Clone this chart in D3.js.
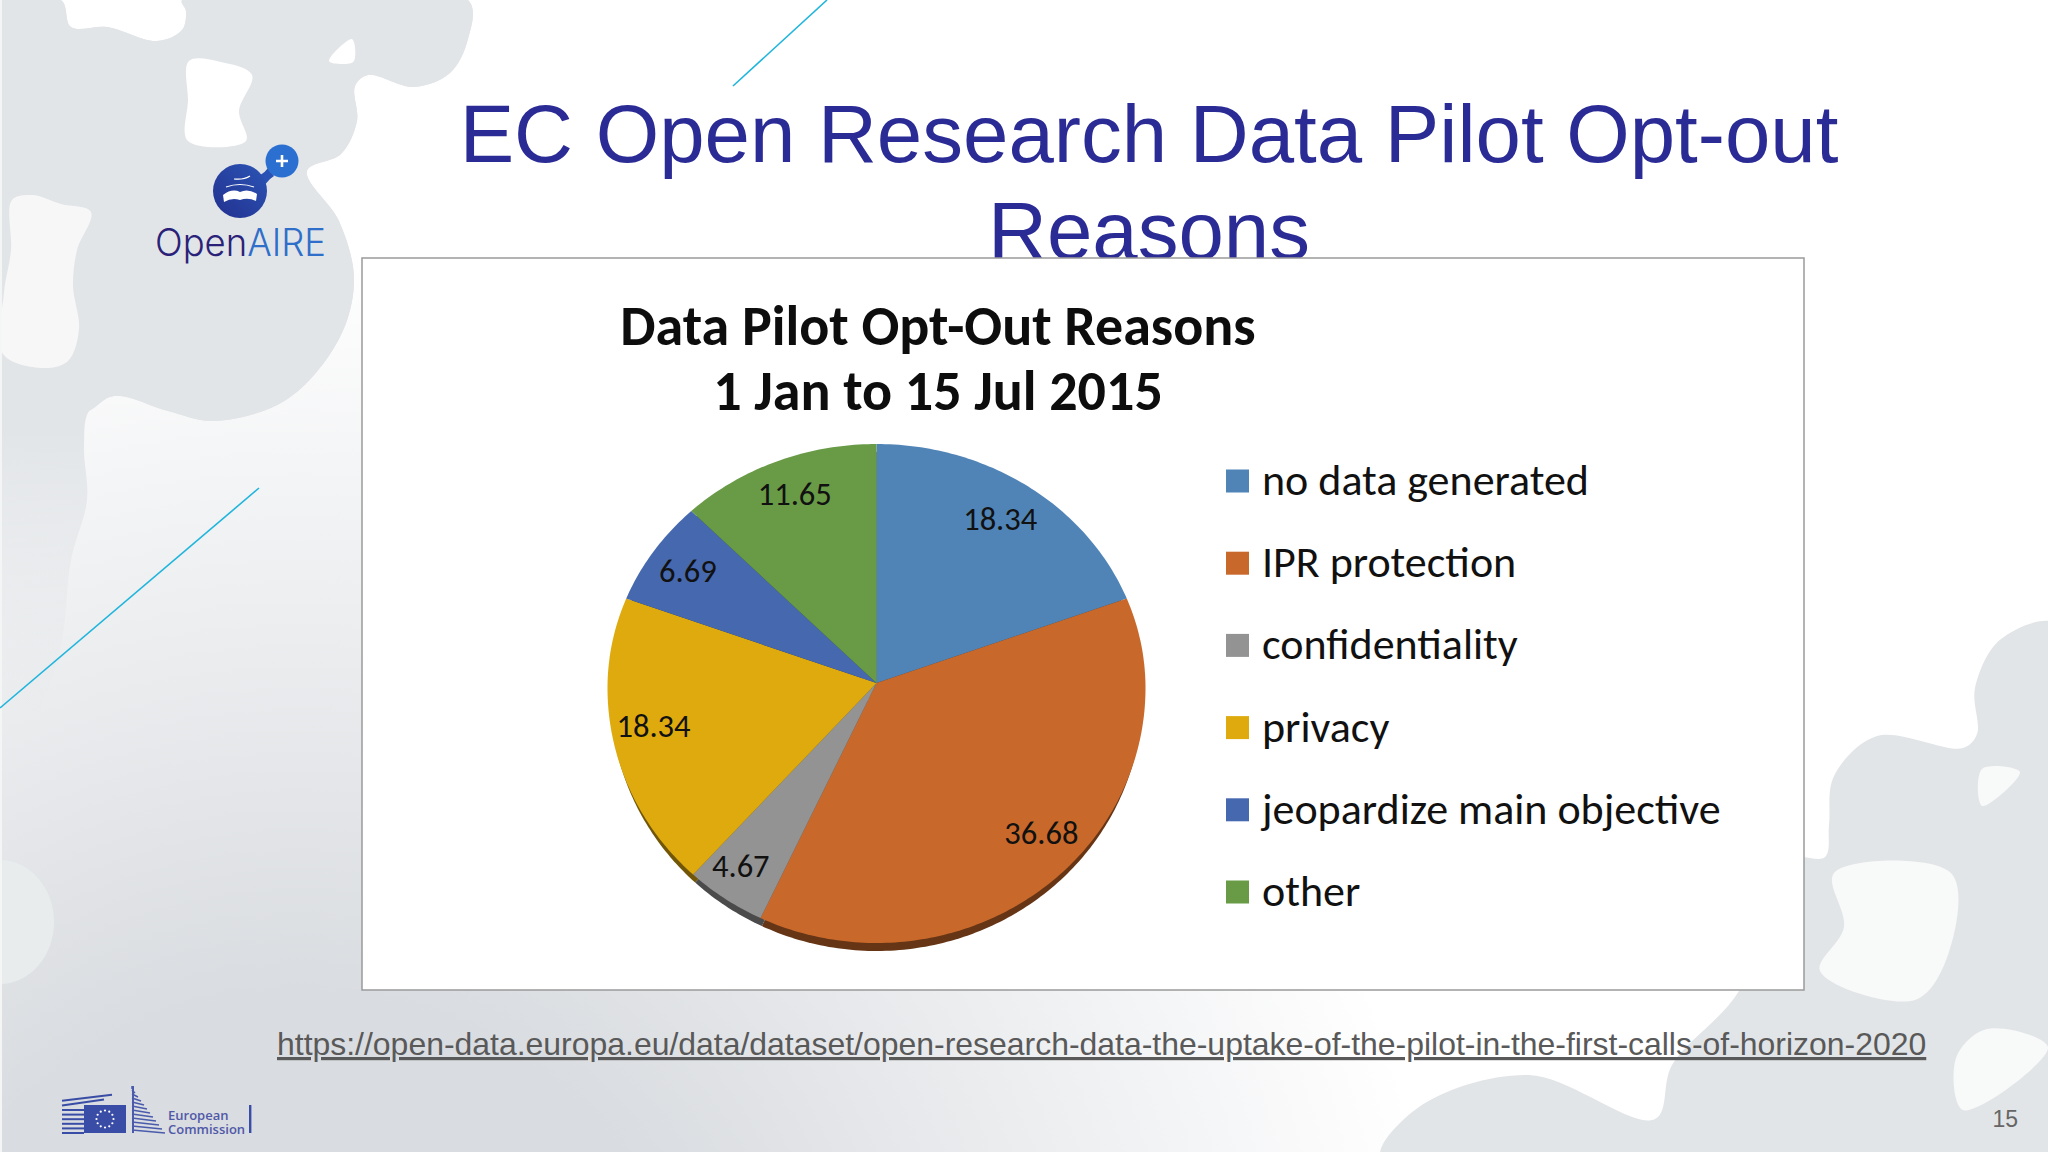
<!DOCTYPE html>
<html>
<head>
<meta charset="utf-8">
<title>EC Open Research Data Pilot Opt-out Reasons</title>
<script src="https://cdn.jsdelivr.net/npm/d3@7"></script>
<style>
  html, body { margin: 0; padding: 0; background: #fff; overflow: hidden; }
  svg { display: block; }
</style>
</head>
<body>
<div id="slide"></div>
<script>
// chart values
const CATEGORIES = ["no data generated", "IPR protection", "confidentiality", "privacy", "jeopardize main objective", "other"];
const VALUES = [18.34, 36.68, 4.67, 18.34, 6.69, 11.65];
const COLORS = ["#5084b6", "#c8692b", "#939393", "#deaa0e", "#4568ae", "#699b47"];
const SLIDE_TITLE = ["EC Open Research Data Pilot Opt-out", "Reasons"];
const CHART_TITLE = ["Data Pilot Opt-Out Reasons", "1 Jan to 15 Jul 2015"];
const LINK = "https://open-data.europa.eu/data/dataset/open-research-data-the-uptake-of-the-pilot-in-the-first-calls-of-horizon-2020";

// frame constants
const FRAME_WIDTH = 2048;
const FRAME_HEIGHT = 1152;
const BOX = {x: 362, y: 258, width: 1442, height: 732};
const PIE = {x: 876.5, apexY: 683, y: 688, rx: 269, ryTop: 244, ryBottom: 255, depth: 8, labelAt: 0.85};
const CALIBRI_LIKE = "Carlito, Lato, sans-serif";
const ARIAL_LIKE = "'Liberation Sans', Arial, sans-serif";
// small per label shifts, excel places them by hand-ish best fit
const LABEL_NUDGE = [[-5, 7], [9, -2], [-7, 11], [0, -3], [1, 4], [3, 3]];

const FRAME = d3.select("#slide")
  .append("svg")
  .attr("width", FRAME_WIDTH)
  .attr("height", FRAME_HEIGHT);

const DEFS = FRAME.append("defs");

const BG_GRAD = DEFS.append("radialGradient").attr("id", "bg")
  .attr("gradientUnits", "userSpaceOnUse")
  .attr("cx", 300).attr("cy", 1400).attr("r", 1150);
BG_GRAD.append("stop").attr("offset", 0.35).attr("stop-color", "#d9dce0");
BG_GRAD.append("stop").attr("offset", 1).attr("stop-color", "#ffffff");

const BAND_GRAD = DEFS.append("linearGradient").attr("id", "band")
  .attr("gradientUnits", "userSpaceOnUse")
  .attr("x1", 0).attr("y1", 430).attr("x2", 0).attr("y2", 720);
BAND_GRAD.append("stop").attr("offset", 0).attr("stop-color", "#e2e5e8");
BAND_GRAD.append("stop").attr("offset", 1).attr("stop-color", "#e2e5e8").attr("stop-opacity", 0);

const BALL_GRAD = DEFS.append("linearGradient").attr("id", "ball")
  .attr("x1", 1).attr("y1", 0).attr("x2", 0).attr("y2", 1);
BALL_GRAD.append("stop").attr("offset", 0).attr("stop-color", "#2b55b5");
BALL_GRAD.append("stop").attr("offset", 1).attr("stop-color", "#23308f");

// background of the slide
FRAME.append("rect")
  .attr("width", FRAME_WIDTH).attr("height", FRAME_HEIGHT)
  .attr("fill", "url(#bg)");

const BLOB = d3.line().curve(d3.curveCatmullRomClosed.alpha(0.5));

function drawBlob(points, fill) {
  FRAME.append("path").attr("d", BLOB(points)).attr("fill", fill);
}

// grey shape top left
drawBlob([[0, 0], [61, 0], [71, 27], [107, 27], [157, 41], [182, 30], [186, 11], [182, 0],
  [468, 0], [468, 39], [450, 73], [414, 87], [368, 75], [355, 86], [357, 121], [341, 154],
  [307, 171], [339, 221], [354, 280], [339, 339], [286, 400], [214, 421], [168, 411],
  [114, 396], [89, 411], [84, 446], [87, 500], [71, 560], [60, 650], [30, 730], [0, 760]], "url(#band)");
drawBlob([[0, 0], [61, 0], [71, 27], [107, 27], [157, 41], [182, 30], [186, 11], [182, 0],
  [468, 0], [468, 39], [450, 73], [414, 87], [368, 75], [355, 86], [357, 121], [341, 154],
  [307, 171], [339, 221], [354, 280], [339, 339], [286, 400], [214, 421], [168, 411],
  [114, 396], [89, 411], [60, 420], [0, 425]], "#e2e5e8");
// holes in that shape
drawBlob([[189, 61], [221, 62], [252, 75], [239, 111], [246, 141], [188, 141], [188, 100]], "#ffffff");
drawBlob([[352, 39], [354, 61], [343, 64], [329, 61]], "#ffffff");
drawBlob([[12, 200], [32, 195], [61, 204], [91, 212], [77, 250], [73, 286], [79, 329], [68, 361],
  [43, 368], [3, 354], [4, 293], [11, 250]], "#f7f7f8");
FRAME.append("ellipse")
  .attr("cx", 0).attr("cy", 922).attr("rx", 54).attr("ry", 62)
  .attr("fill", "#e8ecec");

// grey shapes bottom right
drawBlob([[2060, 625], [2001, 639], [1975, 688], [1977, 734], [1963, 748], [1877, 736], [1834, 776],
  [1829, 825], [1825, 857], [1790, 860], [1739, 991], [1672, 1065], [1655, 1119], [1529, 1075],
  [1419, 1107], [1381, 1160], [2060, 1160]], "#e2e5e7");
drawBlob([[1834, 873], [1951, 873], [1949, 952], [1915, 1000], [1820, 971], [1844, 927]], "#f8f9f9");
drawBlob([[1982, 769], [2020, 772], [1982, 806]], "#f8f9f9");
drawBlob([[1987, 1029], [2048, 1047], [1963, 1110], [1956, 1058]], "#f8f9f9");

// left border of the slide
FRAME.append("rect").attr("width", 2).attr("height", FRAME_HEIGHT).attr("fill", "#f4f5f5");

// thin cyan lines
FRAME.append("line").attr("x1", 0).attr("y1", 708).attr("x2", 259).attr("y2", 488)
  .attr("stroke", "#1fb5dc").attr("stroke-width", 1.6);
FRAME.append("line").attr("x1", 733).attr("y1", 86).attr("x2", 827).attr("y2", 0)
  .attr("stroke", "#1fb5dc").attr("stroke-width", 1.6);

// openaire logo
const LOGO = FRAME.append("g");
LOGO.append("path")
  .attr("d", "M255 176 Q262 176 268 168 L274 176 Q264 182 262 194 Z")
  .attr("fill", "#2a52b4");
LOGO.append("circle").attr("cx", 240).attr("cy", 191).attr("r", 27).attr("fill", "url(#ball)");
LOGO.append("circle").attr("cx", 282).attr("cy", 161).attr("r", 16.5).attr("fill", "#2b6fd0");
LOGO.append("path").attr("d", "M282 155 V167 M276 161 H288")
  .attr("stroke", "#fff").attr("stroke-width", 2.6);
LOGO.append("path")
  .attr("d", "M223 195 Q232 188 240 192 Q248 188 257 194 L256 201 Q248 197 240 200 Q232 197 224 202 Z")
  .attr("fill", "#fff");
LOGO.append("path")
  .attr("d", "M226 187 Q240 182 254 187 M234 179 Q244 180 250 176")
  .attr("stroke", "#fff").attr("stroke-width", 1.2).attr("fill", "none");
const LOGO_TEXT = LOGO.append("text")
  .attr("x", 155).attr("y", 256)
  .attr("font-family", "Inter, Lato, sans-serif")
  .attr("font-size", 38)
  .attr("font-weight", 300)
  .attr("textLength", 171)
  .attr("lengthAdjust", "spacingAndGlyphs");
LOGO_TEXT.append("tspan").attr("fill", "#2a2278").text("Open");
LOGO_TEXT.append("tspan").attr("fill", "#2f6fc9").text("AIRE");

// european commission logo
const EC = FRAME.append("g");
EC.append("rect").attr("x", 84).attr("y", 1105).attr("width", 42).attr("height", 28).attr("fill", "#3a4da6");
EC.selectAll("star")
  .data(d3.range(12))
  .enter()
  .append("circle")
  .attr("cx", (d) => { return 105 + 8.5 * Math.sin(d * Math.PI / 6); })
  .attr("cy", (d) => { return 1119 - 8.5 * Math.cos(d * Math.PI / 6); })
  .attr("r", 1.1)
  .attr("fill", "#fff");
EC.selectAll("flagStripe")
  .data(d3.range(8))
  .enter()
  .append("line")
  .attr("x1", 62).attr("x2", (d) => { return d < 2 ? 112 - d * 8 : 84; })
  .attr("y1", (d) => { return 1133 - (7 - d) * 4.6; })
  .attr("y2", (d) => { return 1133 - (7 - d) * 4.6 - (d < 2 ? 6 : 0); })
  .attr("stroke", "#3a4da6").attr("stroke-width", 2);
EC.selectAll("buildingStripe")
  .data(d3.range(12))
  .enter()
  .append("line")
  .attr("x1", 132).attr("x2", (d) => { return 132 + 3 * d; })
  .attr("y1", (d) => { return 1086 + d * 4; })
  .attr("y2", (d) => { return 1086 + d * 4 + 3; })
  .attr("stroke", "#4a5bac").attr("stroke-width", 1.5);
EC.append("rect").attr("x", 132).attr("y", 1086).attr("width", 2).attr("height", 47).attr("fill", "#4a5bac");
EC.selectAll("ecName")
  .data(["European", "Commission"])
  .enter()
  .append("text")
  .attr("x", 168)
  .attr("y", (d, i) => { return 1120 + i * 14; })
  .attr("font-family", "'Open Sans', sans-serif")
  .attr("font-size", 13)
  .attr("font-weight", 600)
  .attr("fill", "#5058a8")
  .text((d) => { return d; });
EC.append("rect").attr("x", 249).attr("y", 1105).attr("width", 2.4).attr("height", 28).attr("fill", "#3a4da6");

// slide title, the chart box sits on top of the second line
FRAME.selectAll("slideTitle")
  .data(SLIDE_TITLE)
  .enter()
  .append("text")
  .attr("x", 1149)
  .attr("y", (d, i) => { return 162 + i * 97; })
  .attr("text-anchor", "middle")
  .attr("font-family", ARIAL_LIKE)
  .attr("font-size", 81.6)
  .attr("fill", "#2b2b96")
  .text((d) => { return d; });

FRAME.append("rect")
  .attr("x", BOX.x).attr("y", BOX.y)
  .attr("width", BOX.width).attr("height", BOX.height)
  .attr("fill", "#fff")
  .attr("stroke", "#9a9a9a")
  .attr("stroke-width", 1.5);

FRAME.selectAll("chartTitle")
  .data(CHART_TITLE)
  .enter()
  .append("text")
  .attr("x", 938)
  .attr("y", (d, i) => { return 345 + i * 65; })
  .attr("text-anchor", "middle")
  .attr("font-family", CALIBRI_LIKE)
  .attr("font-weight", 700)
  .attr("font-size", 56)
  .attr("fill", "#0d0d0d")
  .text((d) => { return d; });

// pie, slightly tilted so the outline is egg shaped and the apex sits above its middle
const COLOR_SCALE = d3.scaleOrdinal().domain(CATEGORIES).range(COLORS);
const SLICES = d3.pie().sort(null)(VALUES);
const RIM_LINE = d3.line();

function slicePath(rxShrink) {
  return (d) => {
    const STEPS = Math.ceil((d.endAngle - d.startAngle) * 60);
    const RIM = d3.range(STEPS + 1).map((s) => {
      const ANGLE = d.startAngle + (d.endAngle - d.startAngle) * s / STEPS;
      const COS = Math.cos(ANGLE);
      return [PIE.x + (PIE.rx - rxShrink) * Math.sin(ANGLE),
        PIE.y - (COS > 0 ? PIE.ryTop : PIE.ryBottom) * COS];
    });
    return RIM_LINE([[PIE.x, PIE.apexY]].concat(RIM)) + "Z";
  };
}

// pie edge underneath
FRAME.selectAll("edge")
  .data(SLICES)
  .enter()
  .append("path")
  .attr("d", slicePath(3))
  .attr("transform", "translate(0," + PIE.depth + ")")
  .attr("fill", (d, i) => { return d3.color(COLORS[i]).darker(1.9); });

FRAME.selectAll("slice")
  .data(SLICES)
  .enter()
  .append("path")
  .attr("d", slicePath(0))
  .attr("fill", (d, i) => { return COLOR_SCALE(CATEGORIES[i]); });

FRAME.selectAll("valueLabel")
  .data(SLICES)
  .enter()
  .append("text")
  .attr("x", (d, i) => {
    const MID = (d.startAngle + d.endAngle) / 2;
    return PIE.x + PIE.labelAt * PIE.rx * Math.sin(MID) + LABEL_NUDGE[i][0];
  })
  .attr("y", (d, i) => {
    const MID = (d.startAngle + d.endAngle) / 2;
    return PIE.apexY - PIE.labelAt * PIE.ryTop * Math.cos(MID) + LABEL_NUDGE[i][1];
  })
  .attr("dy", "0.35em")
  .attr("text-anchor", "middle")
  .attr("font-family", CALIBRI_LIKE)
  .attr("font-size", 32.5)
  .attr("fill", "#111")
  .text((d) => { return d.data.toFixed(2); });

// legend
const LEGEND_Y = d3.scalePoint().domain(CATEGORIES).range([481, 892]);

FRAME.selectAll("legendKey")
  .data(CATEGORIES)
  .enter()
  .append("rect")
  .attr("x", 1226)
  .attr("y", (d) => { return LEGEND_Y(d) - 11.5; })
  .attr("width", 23)
  .attr("height", 23)
  .attr("fill", (d) => { return COLOR_SCALE(d); });

FRAME.selectAll("legendLabel")
  .data(CATEGORIES)
  .enter()
  .append("text")
  .attr("x", 1262)
  .attr("y", (d) => { return LEGEND_Y(d); })
  .attr("dy", "0.32em")
  .attr("font-family", CALIBRI_LIKE)
  .attr("font-size", 44)
  .attr("fill", "#111")
  .text((d) => { return d; });

// source link and page number
FRAME.append("text")
  .attr("x", 277).attr("y", 1055)
  .attr("font-family", ARIAL_LIKE)
  .attr("font-size", 31.95)
  .attr("fill", "#595959")
  .attr("text-decoration", "underline")
  .text(LINK);

FRAME.append("text")
  .attr("x", 2018).attr("y", 1127)
  .attr("text-anchor", "end")
  .attr("font-family", ARIAL_LIKE)
  .attr("font-size", 23)
  .attr("fill", "#666")
  .text("15");
</script>
</body>
</html>
